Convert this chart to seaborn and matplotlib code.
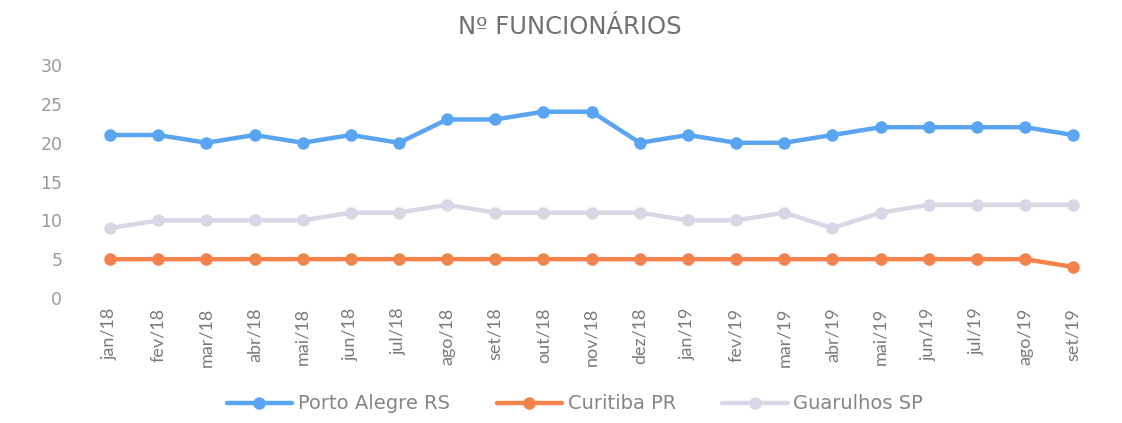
import matplotlib
matplotlib.use("Agg")
import matplotlib.pyplot as plt
import seaborn as sns
import pandas as pd

months = ["jan/18", "fev/18", "mar/18", "abr/18", "mai/18", "jun/18", "jul/18",
          "ago/18", "set/18", "out/18", "nov/18", "dez/18", "jan/19", "fev/19",
          "mar/19", "abr/19", "mai/19", "jun/19", "jul/19", "ago/19", "set/19"]
porto_alegre = [21, 21, 20, 21, 20, 21, 20, 23, 23, 24, 24, 20, 21, 20, 20, 21, 22, 22, 22, 22, 21]
curitiba = [5, 5, 5, 5, 5, 5, 5, 5, 5, 5, 5, 5, 5, 5, 5, 5, 5, 5, 5, 5, 4]
guarulhos = [9, 10, 10, 10, 10, 11, 11, 12, 11, 11, 11, 11, 10, 10, 11, 9, 11, 12, 12, 12, 12]
series_names = ["Porto Alegre RS", "Curitiba PR", "Guarulhos SP"]
yticks = [0, 5, 10, 15, 20, 25, 30]
title = "Nº FUNCIONÁRIOS"

colors = ["#5AA5F2", "#F4824B", "#D9D6E6"]

rows = []
for name, vals in zip(series_names, [porto_alegre, curitiba, guarulhos]):
    for i, v in enumerate(vals):
        rows.append({"idx": i, "value": v, "series": name})
df = pd.DataFrame(rows)

sns.set_theme(style="white")
plt.rcParams['font.family'] = ['DejaVu Sans']

fig = plt.figure(figsize=(11.22, 4.23), dpi=100)
ax = fig.add_axes([0.0766, 0.2955, 0.9014, 0.5505])

sns.lineplot(data=df, x="idx", y="value", hue="series", hue_order=series_names,
             palette=colors, marker="o", markersize=9, markeredgewidth=0,
             linewidth=3.2, dashes=False, ax=ax, legend=True, zorder=3)

ax.set_xlim(-0.5, len(months) - 0.5)
ax.set_ylim(0, 30)
ax.set_yticks(yticks)
ax.set_yticklabels([str(t) for t in yticks], color="#9A9A9A", fontsize=12.5)
ax.set_xticks(range(len(months)))
ax.set_xticklabels(months, rotation=90, color="#7A7A7A", fontsize=13,
                   fontfamily="Lato")
ax.tick_params(axis="y", length=0, pad=17)
ax.tick_params(axis="x", length=0, pad=7)
ax.set_xlabel("")
ax.set_ylabel("")
for s in ax.spines.values():
    s.set_visible(False)

fig.text(0.508, 0.937, title, ha="center", va="center", fontsize=17.5,
         color="#707070")

handles, labels = ax.get_legend_handles_labels()
ax.legend(handles, labels, loc="center", bbox_to_anchor=(0.4836, -0.455),
          ncol=3, frameon=False, fontsize=14, labelcolor="#858585",
          handlelength=3.35, columnspacing=2.4, handletextpad=0.3)

fig.savefig("out.png", dpi=100)
